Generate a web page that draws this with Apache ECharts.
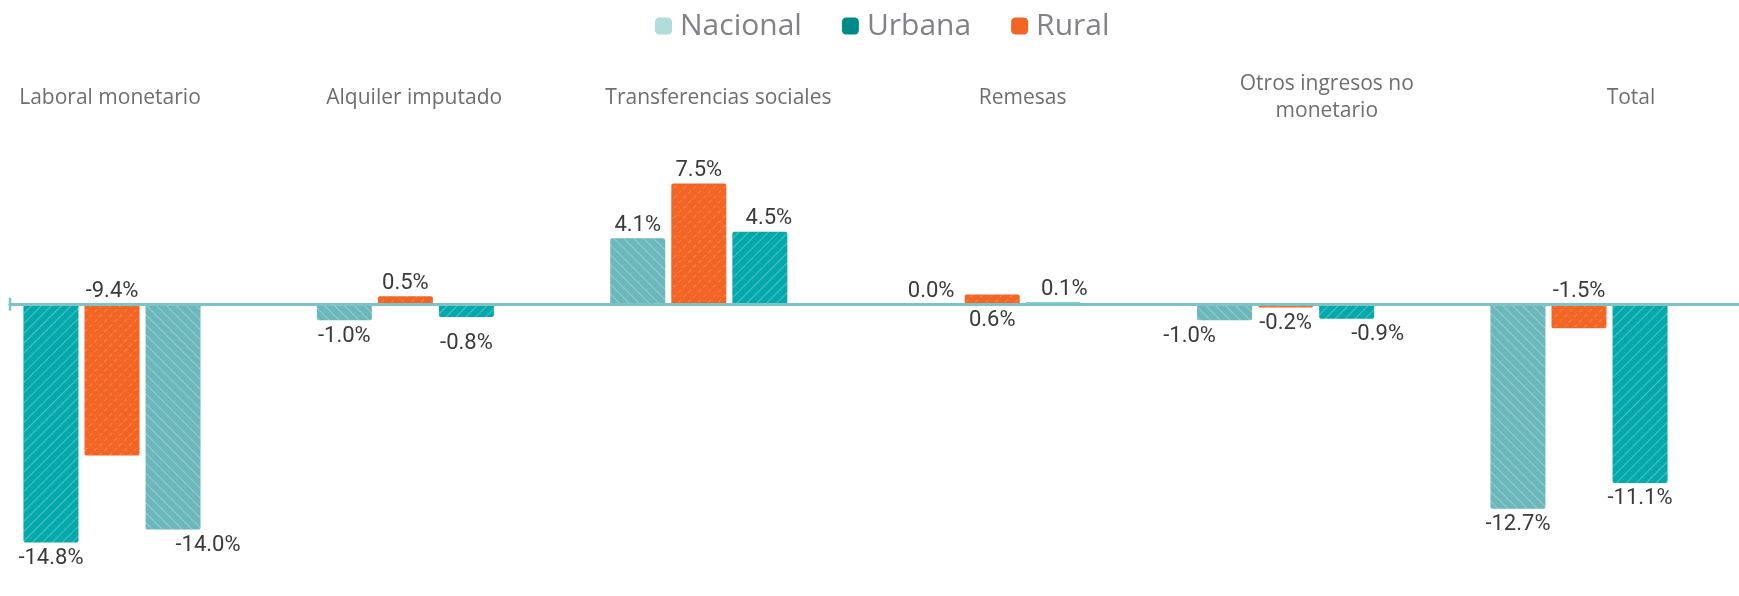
<!DOCTYPE html>
<html>
<head>
<meta charset="utf-8">
<script src="https://cdn.jsdelivr.net/npm/echarts@6/dist/echarts.min.js"></script>
<style>
  html, body { margin: 0; padding: 0; background: #fff; }
  #chart { width: 1739px; height: 596px; }
</style>
</head>
<body>
<div id="chart"></div>
<script>
// categories and values (percent change)
const categories = ['Laboral monetario', 'Alquiler imputado', 'Transferencias sociales', 'Remesas', 'Otros ingresos no\nmonetario', 'Total'];
const nacional = [-14.0, -1.0, 4.1, 0.0, -1.0, -12.7];
const urbana = [-14.8, -0.8, 4.5, 0.1, -0.9, -11.1];
const rural = [-9.4, 0.5, 7.5, 0.6, -0.2, -1.5];
// groups where Urbana is drawn in the first slot and Nacional in the last
const urbanaFirst = [0];

const colors = { Nacional: '#6bb7bb', Urbana: '#05a9ac', Rural: '#f26524' };
const legendColors = { Nacional: '#b1dcdc', Urbana: '#008b88', Rural: '#f26524' };
const decals = {
  Nacional: { symbol: 'rect', color: 'rgba(255,255,255,0.28)', dashArrayX: [1, 0], dashArrayY: [1, 6], rotation: Math.PI / 4 },
  Urbana: { symbol: 'rect', color: 'rgba(255,255,255,0.28)', dashArrayX: [1, 0], dashArrayY: [1, 6], rotation: -Math.PI / 4 },
  Rural: { symbol: 'rect', color: 'rgba(255,255,255,0.22)', dashArrayX: [[4, 3]], dashArrayY: [1, 6], rotation: -Math.PI / 4 }
};

// label tweaks, keyed by series-name + category index
const labelTweaks = {
  'Rural-0': { position: 'top' },
  'Rural-3': { position: 'bottom' },
  'Rural-5': { position: 'top' },
  'Nacional-0': { offset: [35, 0] },
  'Nacional-4': { offset: [-35, 0] },
  'Urbana-1': { offset: [0, 10] },
  'Urbana-2': { offset: [9, 0] },
  'Urbana-3': { offset: [11, 0] },
  'Urbana-4': { offset: [31, 0] }
};

const source = { Nacional: nacional, Urbana: urbana, Rural: rural };

function item(name, i) {
  const v = source[name][i];
  const tw = labelTweaks[name + '-' + i] || {};
  const pos = tw.position || (v >= 0 ? 'top' : 'bottom');
  return {
    value: v,
    itemStyle: { color: colors[name], decal: decals[name] },
    label: { position: pos, distance: pos === 'top' ? 2 : 5, offset: tw.offset || [0, 0] }
  };
}

// three slots per group: first, middle (Rural), last
const slots = [
  { name: 'Nacional', pick: (i) => (urbanaFirst.includes(i) ? 'Urbana' : 'Nacional') },
  { name: 'Rural', pick: () => 'Rural' },
  { name: 'Urbana', pick: (i) => (urbanaFirst.includes(i) ? 'Nacional' : 'Urbana') }
];

const chart = echarts.init(document.getElementById('chart'));
chart.setOption({
  animation: false,
  legend: {
    top: 6,
    left: 650,
    itemWidth: 17,
    itemHeight: 17,
    itemGap: 40,
    icon: 'roundRect',
    textStyle: { fontSize: 30, color: '#808285', fontFamily: "'Open Sans', sans-serif", padding: [0, 0, 0, 3] },
    data: ['Nacional', 'Urbana', 'Rural'].map((n) => ({ name: n, itemStyle: { color: legendColors[n] } }))
  },
  grid: [
    { left: 112, right: 160, top: 111, height: 483 },
    { left: 110, right: 108, top: 40, height: 58 },
    { left: 10, right: 0, top: 111, height: 483 }
  ],
  xAxis: [
    {
      type: 'category', gridIndex: 0, data: categories, boundaryGap: false,
      axisLine: { show: false }, axisTick: { show: false }, axisLabel: { show: false }
    },
    {
      type: 'category', gridIndex: 1, data: categories, boundaryGap: false,
      axisLine: { show: false }, axisTick: { show: false },
      axisLabel: {
        interval: 0, margin: 0, verticalAlign: 'middle', lineHeight: 27,
        fontSize: 21, color: '#6d6e71', fontFamily: "'Open Sans', sans-serif"
      }
    },
    {
      type: 'category', gridIndex: 2, data: categories, z: 5,
      axisTick: { show: false }, axisLabel: { show: false },
      axisLine: {
        onZero: true,
        symbol: ['rect', 'none'], symbolSize: [13, 2.5],
        lineStyle: { color: '#7cc4c6', width: 3 }
      }
    }
  ],
  yAxis: [
    { type: 'value', gridIndex: 0, min: -18, max: 12, show: false },
    { type: 'value', gridIndex: 1, show: false },
    { type: 'value', gridIndex: 2, min: -18, max: 12, show: false }
  ],
  series: slots.map((s) => ({
    name: s.name,
    type: 'bar',
    xAxisIndex: 0,
    yAxisIndex: 0,
    clip: false,
    barWidth: 55,
    barGap: '11%',
    itemStyle: { color: colors[s.name], borderRadius: 2 },
    label: {
      show: true,
      fontSize: 22,
      color: '#3a3a3a',
      fontFamily: "Roboto, sans-serif",
      formatter: (p) => p.value.toFixed(1) + '%'
    },
    data: categories.map((c, i) => item(s.pick(i), i))
  }))
});
</script>
</body>
</html>
